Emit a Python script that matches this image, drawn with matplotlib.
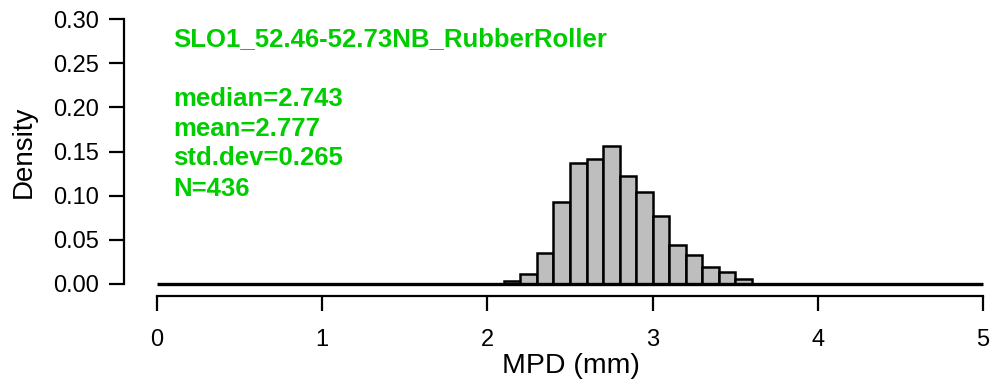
import numpy as np
import matplotlib.pyplot as plt

plt.rcParams['font.family'] = ['Liberation Sans', 'DejaVu Sans']

# histogram of MPD values, bins of 0.1 mm
bin_edges = [2.1, 2.2, 2.3, 2.4, 2.5, 2.6, 2.7, 2.8, 2.9, 3.0,
             3.1, 3.2, 3.3, 3.4, 3.5, 3.6]
density = [0.0034, 0.011, 0.0355, 0.0932, 0.1367, 0.142, 0.1563, 0.1227,
           0.1042, 0.0767, 0.0442, 0.0328, 0.0196, 0.014, 0.0057]

title = "SLO1_52.46-52.73NB_RubberRoller"
stats = ["median=2.743", "mean=2.777", "std.dev=0.265", "N=436"]
xticks = [0, 1, 2, 3, 4, 5]
yticks = [0.00, 0.05, 0.10, 0.15, 0.20, 0.25, 0.30]

W, H = 995, 387
fig = plt.figure(figsize=(W / 100, H / 100), dpi=100)

# pixel geometry
x0_px, px_per_x = 157, 165.2
y0_px, px_per_y = 284, 883.3
left_px, bottom_px = 124, 296
xmin = (left_px - x0_px) / px_per_x
xmax = (W - x0_px) / px_per_x
ymin = -(bottom_px - y0_px) / px_per_y
ymax = y0_px / px_per_y

ax = fig.add_axes([left_px / W, 1 - bottom_px / H, 1 - left_px / W, bottom_px / H])
ax.set_xlim(xmin, xmax)
ax.set_ylim(ymin, ymax)

ax.bar(bin_edges[:-1], density, width=0.1, align='edge',
       color='#BEBEBE', edgecolor='black', linewidth=1.8, zorder=2)
ax.hlines(0, 0, 5, colors='black', linewidth=2.4, zorder=3)

for s in ['top', 'right']:
    ax.spines[s].set_visible(False)
ax.spines['left'].set_bounds(0, 0.30)
ax.spines['bottom'].set_bounds(0, 5)
for s in ['left', 'bottom']:
    ax.spines[s].set_linewidth(1.6)

ax.set_xticks(xticks)
ax.set_xticklabels([str(v) for v in xticks])
ax.set_yticks(yticks)
ax.set_yticklabels([f"{v:.2f}" for v in yticks])
ax.tick_params(axis='both', length=11, width=1.6, labelsize=17)
ax.tick_params(axis='y', pad=7)
ax.tick_params(axis='x', pad=13)

green = '#00CD00'
tx = (173 - x0_px) / px_per_x
ax.text(tx, (y0_px - 46) / px_per_y, title, color=green, fontsize=18.5,
        fontweight='bold', va='baseline', ha='left')
for txt, base in zip(stats, [106, 135.5, 165, 195.5]):
    ax.text(tx, (y0_px - base) / px_per_y, txt, color=green, fontsize=18.5,
            fontweight='bold', va='baseline', ha='left')

fig.text(571 / W, 1 - 366 / H, "MPD (mm)", fontsize=20.5, ha='center', va='center')
fig.text(24 / W, 1 - 152 / H, "Density", fontsize=20, rotation=90,
         ha='center', va='center')

fig.savefig('out.png', dpi=100)
